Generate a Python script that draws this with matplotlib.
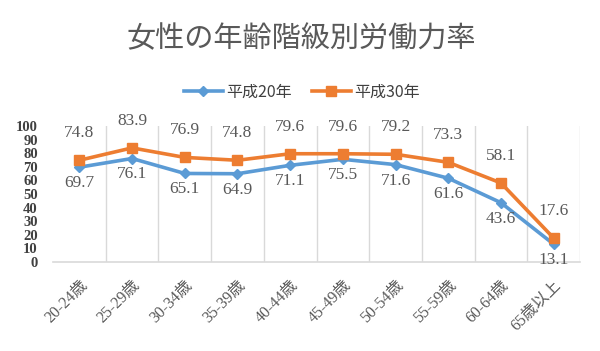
import matplotlib
matplotlib.use("Agg")
import matplotlib.pyplot as plt

plt.rcParams['font.family'] = ['Liberation Serif', 'Noto Sans CJK JP', 'DejaVu Sans']

categories = ["20-24歳", "25-29歳", "30-34歳", "35-39歳", "40-44歳",
              "45-49歳", "50-54歳", "55-59歳", "60-64歳", "65歳以上"]
h20 = [69.7, 76.1, 65.1, 64.9, 71.1, 75.5, 71.6, 61.6, 43.6, 13.1]
h30 = [74.8, 83.9, 76.9, 74.8, 79.6, 79.6, 79.2, 73.3, 58.1, 17.6]
series_names = ["平成20年", "平成30年"]
title = "女性の年齢階級別労働力率"
yticks = list(range(0, 101, 10))

blue = "#5B9BD5"
orange = "#ED7D31"
gray = "#595959"
dark = "#404040"

fig = plt.figure(figsize=(6.0, 3.51), dpi=100)
ax = fig.add_axes([53/600, 1-262/351, 527/600, 136/351])

x = list(range(len(categories)))
l1, = ax.plot(x, h20, color=blue, lw=2.6, marker="D", ms=5.5, label=series_names[0], zorder=3)
l2, = ax.plot(x, h30, color=orange, lw=2.6, marker="s", ms=7.5, label=series_names[1], zorder=3)

for i, v in enumerate(h30):
    ax.annotate(f"{v:.1f}", (i, v), xytext=(0, 19.5), textcoords="offset points",
                ha="center", va="center", fontsize=12.5, color=gray)
for i, v in enumerate(h20):
    ax.annotate(f"{v:.1f}", (i, v), xytext=(0, -11.5), textcoords="offset points",
                ha="center", va="center", fontsize=12.5, color=gray)

ax.set_xlim(-0.5, len(categories) - 0.5)
ax.set_ylim(0, 100)
ax.set_yticks(yticks)
ax.set_yticklabels([str(t) for t in yticks], fontsize=10.5, color=dark, fontweight="bold")
ax.set_xticks(x)
ax.set_xticklabels(categories, rotation=45, ha="right", va="top", rotation_mode="anchor",
                   fontsize=11.5, color=gray)
ax.tick_params(axis="y", length=0, pad=11)
ax.tick_params(axis="x", length=0, pad=11)

for b in [i + 0.5 for i in range(len(categories))]:
    ax.axvline(b, color="#D9D9D9", lw=1, zorder=1)
for s in ["top", "right", "left"]:
    ax.spines[s].set_visible(False)
ax.spines["bottom"].set_color("#D9D9D9")
ax.spines["bottom"].set_linewidth(1.2)

fig.text(0.502, 1-39/351, title, ha="center", va="center", fontsize=21,
         color=gray, family=['Noto Sans CJK JP'])

fig.legend(handles=[l1, l2], loc="center", bbox_to_anchor=(0.503, 1-92/351),
           ncol=2, frameon=False, handlelength=2.4, handletextpad=0.2, columnspacing=1.3,
           labelcolor=dark, prop={'family': ['Noto Sans CJK JP'], 'size': 11.5})

fig.savefig("out.png", dpi=100, facecolor="white")
